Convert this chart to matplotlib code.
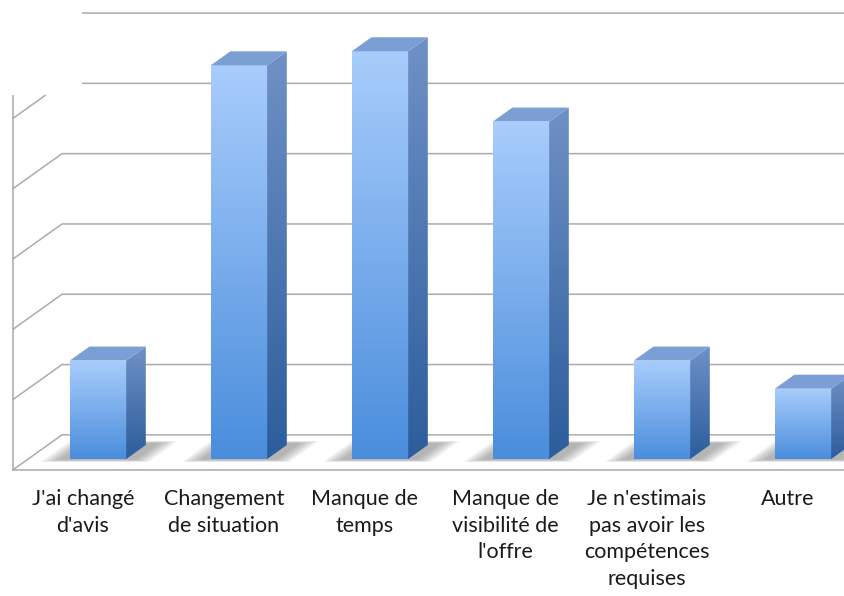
import numpy as np
import matplotlib
matplotlib.use("Agg")
import matplotlib.pyplot as plt
from matplotlib.patches import Polygon, Rectangle
from matplotlib.colors import LinearSegmentedColormap

categories = [
    "J'ai changé\nd'avis",
    "Changement\nde situation",
    "Manque de\ntemps",
    "Manque de\nvisibilité de\nl'offre",
    "Je n'estimais\npas avoir les\ncompétences\nrequises",
    "Autre",
]
values = [7, 28, 29, 24, 7, 5]
grid_levels = [0, 5, 10, 15, 20, 25, 30]

W, H = 845, 596
# pixel layout of the front plane of the bars
X0, SX = 98.0, 141.0     # px of category 0, px per category
Y0, SY = 459.0, 14.06    # px of value 0, px per unit
DX = 49.0 / SX           # full floor depth, in x units
DY = 35.0 / SY           # full floor depth, in value units
D_FRONT, D_BACK = -0.31, 0.69
BAR_D = 0.40
BAR_W = 0.40
X_LEFT, X_RIGHT = -0.495, 5.8

GRID = "#ababab"


def proj(x, v, d):
    return x + d * DX, v + d * DY


fig = plt.figure(figsize=(W / 100, H / 100), dpi=100)
ax = fig.add_axes([0, 0, 1, 1])
ax.axis("off")

# walls and gridlines
for lv in grid_levels:
    p0 = proj(X_LEFT, lv, D_FRONT)
    p1 = proj(X_LEFT, lv, D_BACK)
    p2 = proj(X_RIGHT, lv, D_BACK)
    ax.plot([p0[0], p1[0], p2[0]], [p0[1], p1[1], p2[1]], color=GRID, lw=1.1,
            solid_joinstyle="miter", zorder=1)
a = proj(X_LEFT, 0, D_FRONT)
b = proj(X_LEFT, grid_levels[-1], D_FRONT)
c = proj(X_RIGHT, 0, D_FRONT)
ax.plot([b[0], a[0], c[0]], [b[1], a[1], c[1]], color=GRID, lw=1.1, zorder=1)

# the top left corner of the plot area is hidden in the original
ax.add_patch(Rectangle((-X0 / SX, (Y0 - 95) / SY), 82 / SX, 100,
                       facecolor="white", edgecolor="none", zorder=2))

front_cmap = LinearSegmentedColormap.from_list("front", ["#4a8ddc", "#a8cdfc"])
side_cmap = LinearSegmentedColormap.from_list("side", ["#2c5d9c", "#6f91c6"])
grad = np.linspace(0, 1, 256).reshape(-1, 1)

bars = ax.bar(range(len(values)), values, width=BAR_W, color="none",
              edgecolor="none", zorder=5)

for i, (rect, v) in enumerate(zip(bars, values)):
    xl, xr = i - BAR_W / 2, i + BAR_W / 2
    # soft shadow on the floor
    for k in range(8):
        e = 0.015 + 0.016 * k
        pts = [proj(xl - 0.05 - e, 0, -0.02 - e * 0.5), proj(xr + 0.06 + e, 0, -0.02 - e * 0.5),
               proj(xr + 0.06 + e, 0, BAR_D + 0.05 + e * 0.5), proj(xl - 0.05 - e, 0, BAR_D + 0.05 + e * 0.5)]
        ax.add_patch(Polygon(pts, closed=True, facecolor="#606060", edgecolor="none",
                             alpha=0.07, zorder=3))
    # front face
    im = ax.imshow(grad, cmap=front_cmap, origin="lower", aspect="auto",
                   extent=(xl, xr, 0, v), zorder=6)
    im.set_clip_path(rect)
    # side face
    side = [proj(xr, 0, 0), proj(xr, 0, BAR_D), proj(xr, v, BAR_D), proj(xr, v, 0)]
    sp = Polygon(side, closed=True, facecolor="none", edgecolor="none")
    ax.add_patch(sp)
    xs = [p[0] for p in side]
    ys = [p[1] for p in side]
    im2 = ax.imshow(grad, cmap=side_cmap, origin="lower", aspect="auto",
                    extent=(min(xs), max(xs), min(ys), max(ys)), zorder=6)
    im2.set_clip_path(sp)
    # top face
    top = [proj(xl, v, 0), proj(xr, v, 0), proj(xr, v, BAR_D), proj(xl, v, BAR_D)]
    ax.add_patch(Polygon(top, closed=True, facecolor="#7b9fd5", edgecolor="none", zorder=7))

    lx, _ = proj(i, 0, D_FRONT)
    ax.text(lx, (Y0 - 489) / SY, categories[i], ha="center", va="top",
            multialignment="center", fontsize=15.5, family="Lato",
            color="#1a1a1a", linespacing=1.42, zorder=8)

ax.set_xlim(-X0 / SX, (W - X0) / SX)
ax.set_ylim((Y0 - H) / SY, Y0 / SY)

fig.savefig("out.png", dpi=100)
